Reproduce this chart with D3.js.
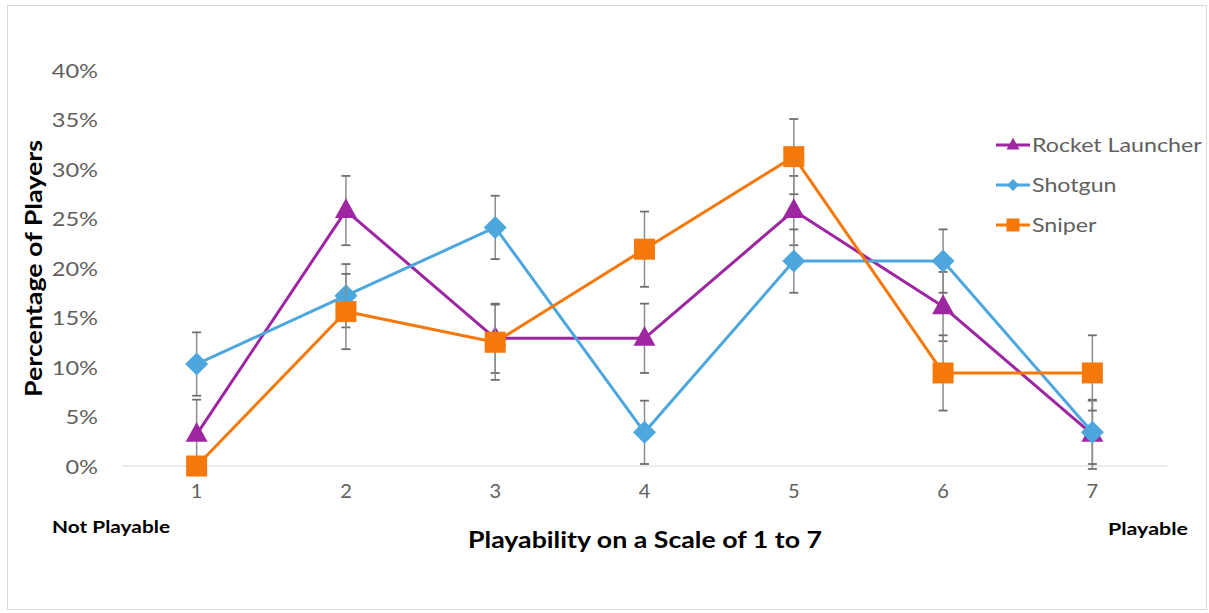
<!DOCTYPE html>
<html>
<head>
<meta charset="utf-8">
<script src="https://cdn.jsdelivr.net/npm/d3@7"></script>
<style>
  html, body { margin: 0; padding: 0; background: #fff; }
  svg { display: block; }
  text { font-family: Lato, "Open Sans", sans-serif; }
</style>
</head>
<body>
<svg id="chart" width="1209" height="613"></svg>
<script>
// ---- data ----
const categories = ["1", "2", "3", "4", "5", "6", "7"];
const yTicks = [0, 0.05, 0.10, 0.15, 0.20, 0.25, 0.30, 0.35, 0.40];
const seriesNames = ["Rocket Launcher", "Shotgun", "Sniper"];
const rocketValues  = [0.032, 0.258, 0.129, 0.129, 0.258, 0.161, 0.032];
const shotgunValues = [0.103, 0.172, 0.241, 0.034, 0.207, 0.207, 0.034];
const sniperValues  = [0.000, 0.156, 0.125, 0.219, 0.3125, 0.094, 0.094];
const rocketErrors  = [0.035, 0.035, 0.035, 0.035, 0.035, 0.035, 0.035];
const shotgunErrors = [0.032, 0.032, 0.032, 0.032, 0.032, 0.032, 0.032];
const sniperErrors  = [0.000, 0.038, 0.038, 0.038, 0.038, 0.038, 0.038];
const seriesColors = ["#9c27a0", "#4da7dd", "#f5780a"];
const seriesShapes = ["triangle", "diamond", "square"];

const series = [
  { name: seriesNames[0], values: rocketValues,  errors: rocketErrors,  color: seriesColors[0], shape: seriesShapes[0] },
  { name: seriesNames[1], values: shotgunValues, errors: shotgunErrors, color: seriesColors[1], shape: seriesShapes[1] },
  { name: seriesNames[2], values: sniperValues,  errors: sniperErrors,  color: seriesColors[2], shape: seriesShapes[2] }
];

// ---- layout ----
const svg = d3.select("#chart");
const plot = { left: 122, right: 1167, top: 70, bottom: 466 };

const x = d3.scaleBand().domain(categories).range([plot.left, plot.right]).padding(0);
const cx = c => x(c) + x.bandwidth() / 2;
const y = d3.scaleLinear().domain([0, 0.40]).range([plot.bottom, plot.top]);

// widen text horizontally (the reference font is wider than Lato)
function stretch(sel, factor) {
  sel.each(function () {
    const len = this.getComputedTextLength();
    d3.select(this).attr("textLength", len * factor).attr("lengthAdjust", "spacingAndGlyphs");
  });
}

// chart border
svg.append("rect")
  .attr("x", 7.5).attr("y", 5.5).attr("width", 1199).attr("height", 604)
  .attr("fill", "none").attr("stroke", "#d9d9d9").attr("stroke-width", 1);

// y axis (labels only)
const yAxis = d3.axisLeft(y).tickValues(yTicks).tickFormat(d3.format(".0%")).tickSize(0).tickPadding(0);
const gy = svg.append("g").attr("transform", `translate(98,0)`).call(yAxis);
gy.select(".domain").remove();
gy.selectAll("text").attr("fill", "#606060").style("font-size", "20px").attr("dy", "0.35em")
  .call(stretch, 1.18);

// x axis line at 0
svg.append("line")
  .attr("x1", plot.left).attr("x2", plot.right)
  .attr("y1", y(0)).attr("y2", y(0))
  .attr("stroke", "#d9d9d9").attr("stroke-width", 1.2);

const xAxis = d3.axisBottom(x).tickSize(0).tickPadding(0);
const gx = svg.append("g").attr("transform", `translate(0,${y(0) + 25})`).call(xAxis);
gx.select(".domain").remove();
gx.selectAll("text").attr("fill", "#606060").style("font-size", "20px").attr("dy", "0.35em");

// titles
svg.append("text")
  .attr("transform", `translate(42,268.5) rotate(-90)`)
  .attr("text-anchor", "middle")
  .attr("fill", "#000").style("font-size", "22px").style("font-weight", "bold")
  .attr("textLength", 257).attr("lengthAdjust", "spacingAndGlyphs")
  .text("Percentage of Players");

svg.append("text")
  .attr("x", 645).attr("y", 548)
  .attr("text-anchor", "middle")
  .attr("fill", "#000").style("font-size", "23px").style("font-weight", "bold")
  .attr("textLength", 354).attr("lengthAdjust", "spacingAndGlyphs")
  .text("Playability on a Scale of 1 to 7");

svg.append("text")
  .attr("x", 52).attr("y", 533)
  .attr("fill", "#000").style("font-size", "17px").style("font-weight", "bold")
  .attr("textLength", 118).attr("lengthAdjust", "spacingAndGlyphs")
  .text("Not Playable");

svg.append("text")
  .attr("x", 1108).attr("y", 535)
  .attr("fill", "#000").style("font-size", "17px").style("font-weight", "bold")
  .attr("textLength", 80).attr("lengthAdjust", "spacingAndGlyphs")
  .text("Playable");

// marker shape
function markerPath(shape, s) {
  if (shape === "triangle") {
    const h = s * 0.9, w = s;
    return `M0,${-h * 0.62}L${w / 2},${h * 0.38}L${-w / 2},${h * 0.38}Z`;
  }
  if (shape === "diamond") {
    const r = s / 2;
    return `M0,${-r}L${r},0L0,${r}L${-r},0Z`;
  }
  const r = s / 2;
  return `M${-r},${-r}L${r},${-r}L${r},${r}L${-r},${r}Z`;
}
const markerSize = { triangle: 22, diamond: 23, square: 21 };

const line = d3.line().x(d => cx(d.c)).y(d => y(d.v));

series.forEach(s => {
  const pts = categories.map((c, i) => ({ c, v: s.values[i], e: s.errors[i] }));
  const g = svg.append("g");

  // error bars
  const eb = g.selectAll("g.eb").data(pts.filter(p => p.e > 0)).join("g").attr("class", "eb");
  eb.append("line")
    .attr("x1", d => cx(d.c)).attr("x2", d => cx(d.c))
    .attr("y1", d => y(d.v + d.e)).attr("y2", d => y(d.v - d.e))
    .attr("stroke", "#8c8c8c").attr("stroke-width", 1.5);
  [1, -1].forEach(sign => {
    eb.append("line")
      .attr("x1", d => cx(d.c) - 4.5).attr("x2", d => cx(d.c) + 4.5)
      .attr("y1", d => y(d.v + sign * d.e)).attr("y2", d => y(d.v + sign * d.e))
      .attr("stroke", "#6e6e6e").attr("stroke-width", 1.8);
  });

  g.append("path").datum(pts)
    .attr("d", line)
    .attr("fill", "none").attr("stroke", s.color).attr("stroke-width", 3)
    .attr("stroke-linejoin", "round");

  g.selectAll("path.mk").data(pts).join("path").attr("class", "mk")
    .attr("transform", d => `translate(${cx(d.c)},${y(d.v)})`)
    .attr("d", markerPath(s.shape, markerSize[s.shape]))
    .attr("fill", s.color);
});

// legend
const legend = svg.append("g");
series.forEach((s, i) => {
  const ly = 145 + i * 40;
  const lg = legend.append("g").attr("transform", `translate(0,${ly})`);
  lg.append("line").attr("x1", 996).attr("x2", 1030).attr("y1", 0).attr("y2", 0)
    .attr("stroke", s.color).attr("stroke-width", 3);
  lg.append("path").attr("transform", "translate(1013,0)")
    .attr("d", markerPath(s.shape, s.shape === "diamond" ? 12 : 13))
    .attr("fill", s.color);
  lg.append("text").attr("x", 1032).attr("y", 0).attr("dy", "0.35em")
    .attr("fill", "#606060").style("font-size", "20px")
    .text(s.name)
    .call(stretch, 1.16);
});
</script>
</body>
</html>
